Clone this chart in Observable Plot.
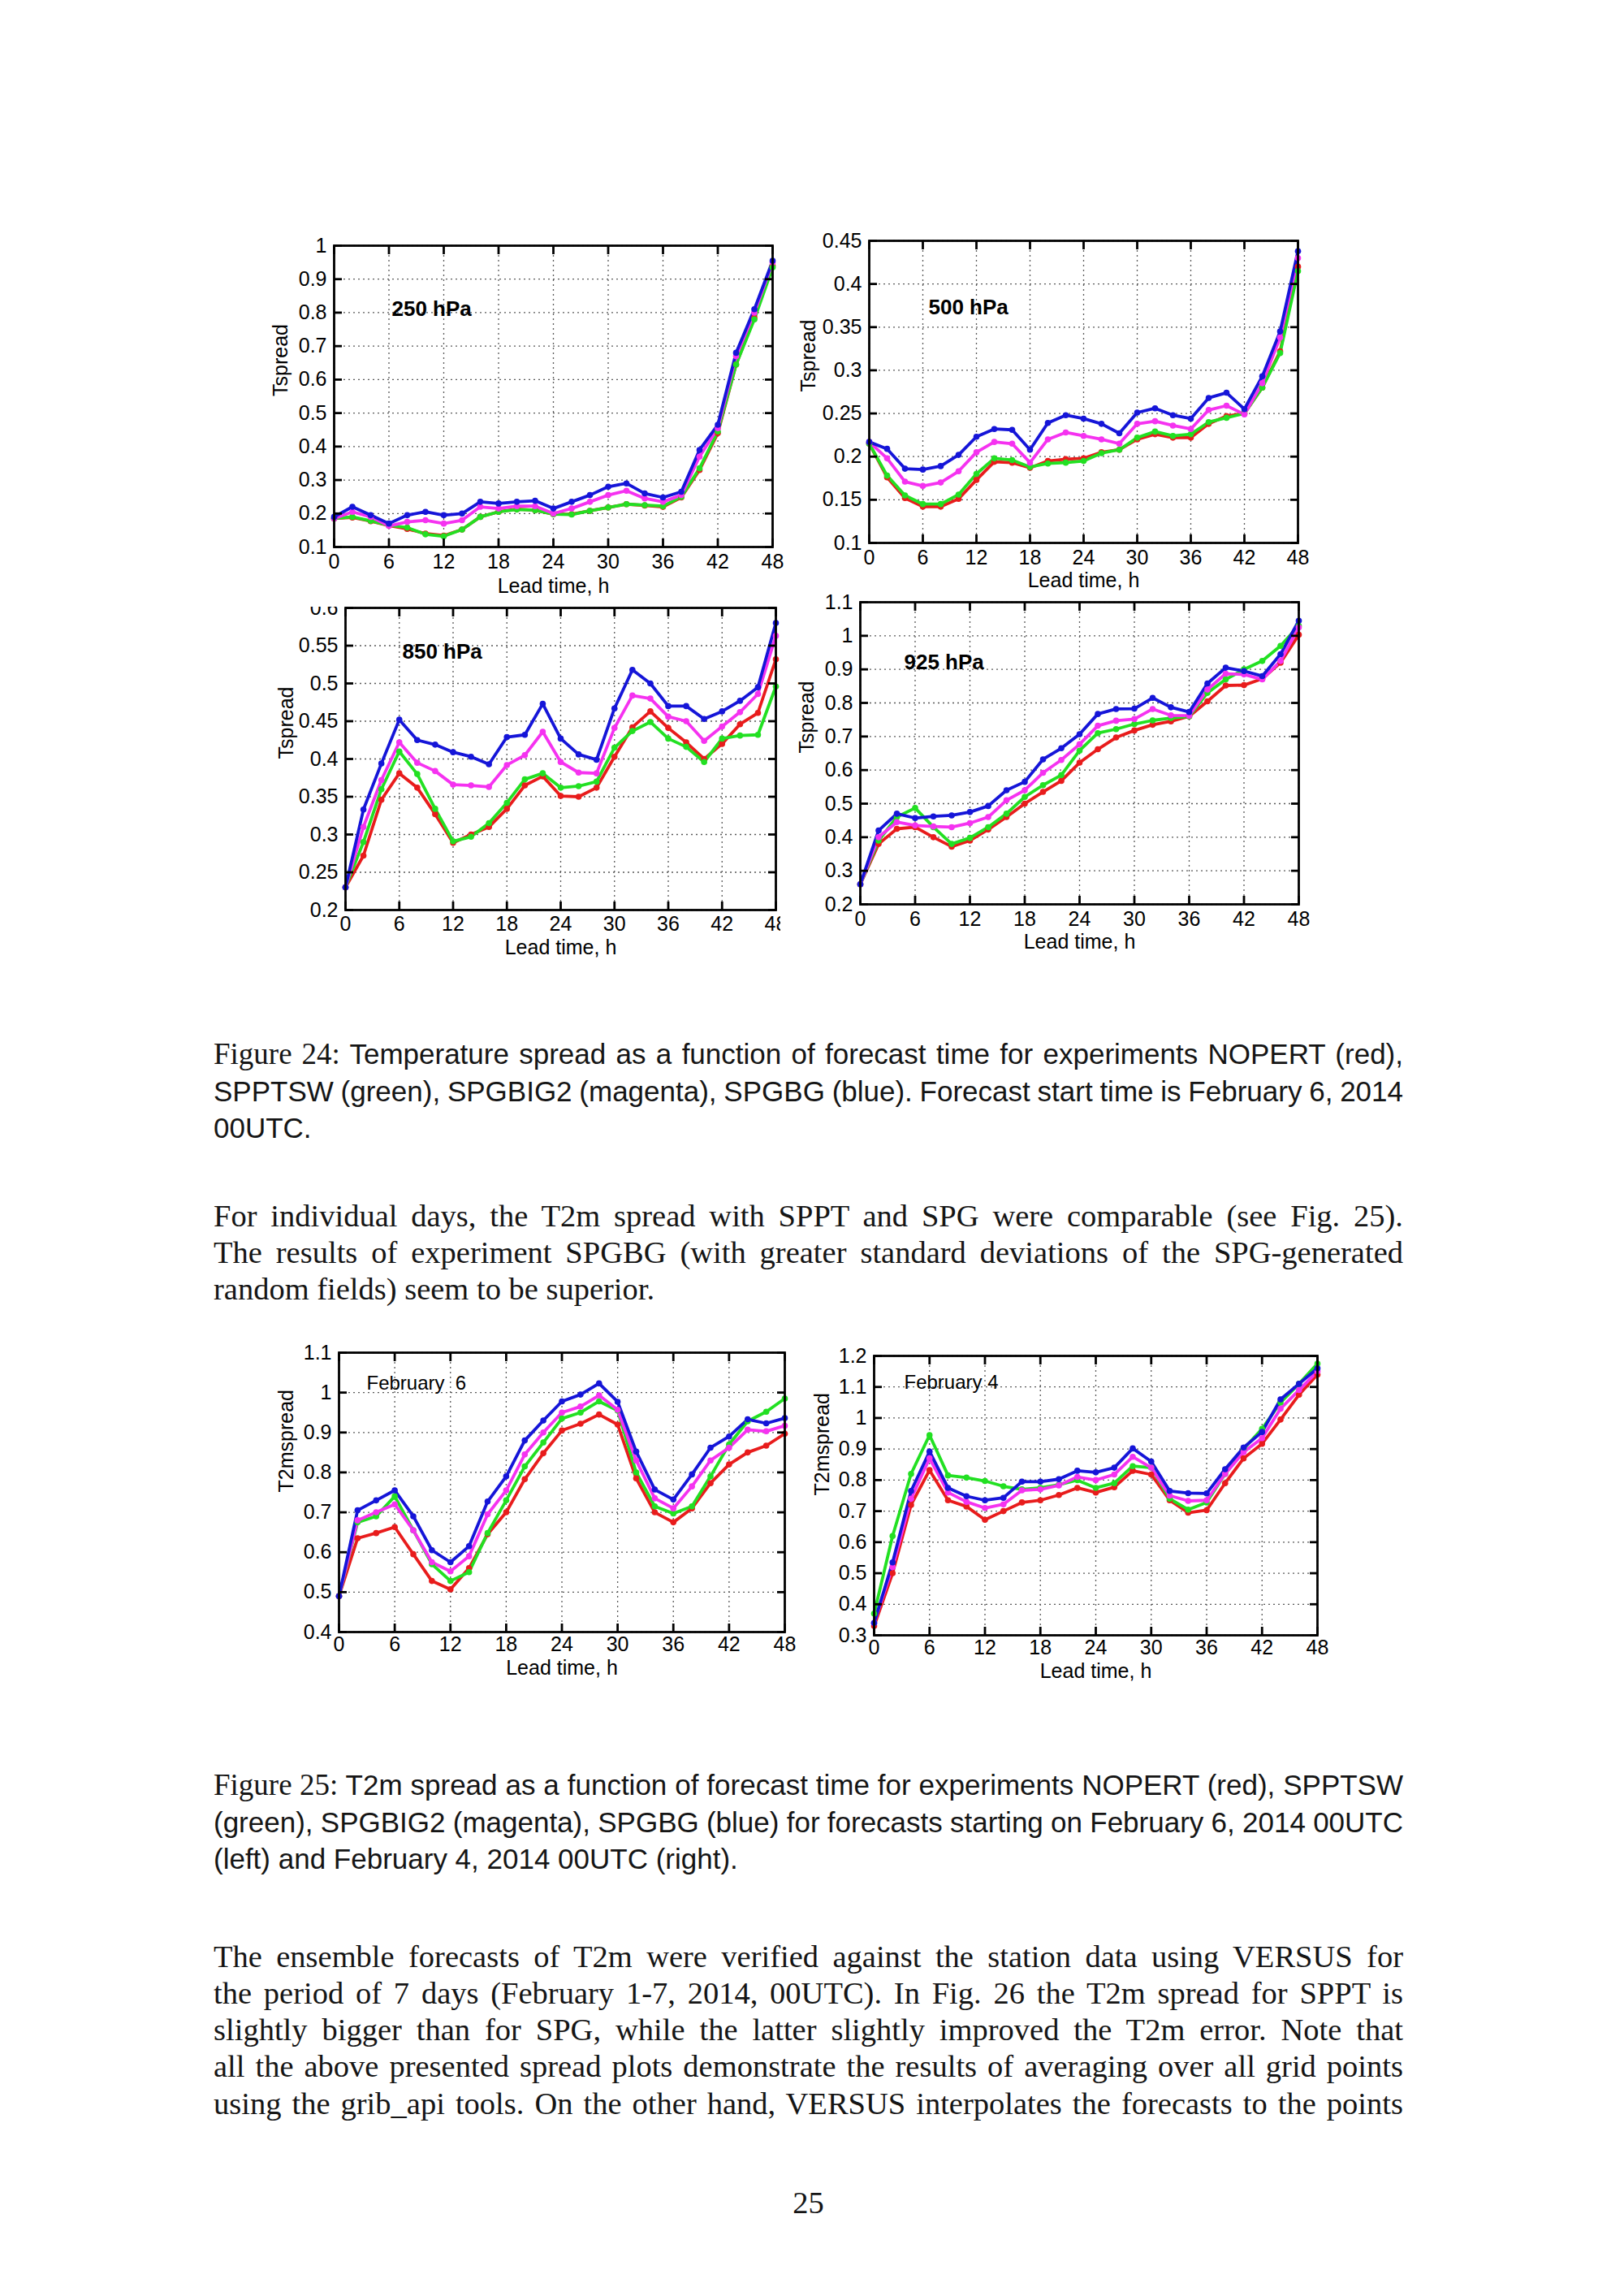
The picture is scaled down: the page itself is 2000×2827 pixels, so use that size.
<!DOCTYPE html>
<html><head><meta charset="utf-8">
<script src="https://cdn.jsdelivr.net/npm/d3@7"></script>
<script src="https://cdn.jsdelivr.net/npm/@observablehq/plot@0.6"></script>
<style>
html,body{margin:0;padding:0;background:#fff;}
#page{position:relative;width:2000px;height:2827px;overflow:hidden;background:#fff;}
.chart{position:absolute;overflow:hidden;}
.chart svg{max-width:none;display:block;position:absolute;}
.line{position:absolute;left:263px;width:1465px;white-space:nowrap;line-height:45px;color:#151515;}
.serif{font-family:"Liberation Serif","Times New Roman",serif;font-size:38.5px;}
.sans{font-family:"Liberation Sans",Arial,sans-serif;font-size:35px;}
.sans .fig{font-family:"Liberation Serif","Times New Roman",serif;font-size:37px;}
</style></head><body><div id="page"></div>
<script>
// ---------- data ----------
const leadTime = [0,2,4,6,8,10,12,14,16,18,20,22,24,26,28,30,32,34,36,38,40,42,44,46,48];
const xTicks = [0,6,12,18,24,30,36,42,48];
const seriesNames = ["NOPERT","SPPTSW","SPGBIG2","SPGBG"];
const seriesColors = ["#e81c1c","#22e022","#f532f0","#1515d8"];

// 250 hPa
const t250_nopert  = [0.185,0.188,0.177,0.164,0.154,0.140,0.134,0.152,0.190,0.205,0.213,0.210,0.198,0.198,0.208,0.218,0.228,0.224,0.220,0.248,0.330,0.440,0.645,0.785,0.940];
const t250_spptsw  = [0.185,0.190,0.178,0.165,0.158,0.138,0.132,0.152,0.190,0.205,0.212,0.210,0.198,0.197,0.208,0.218,0.228,0.225,0.222,0.250,0.335,0.445,0.645,0.780,0.935];
const t250_spgbig2 = [0.185,0.205,0.190,0.163,0.175,0.180,0.170,0.180,0.220,0.215,0.222,0.222,0.200,0.215,0.235,0.255,0.268,0.245,0.235,0.255,0.370,0.455,0.670,0.800,0.950];
const t250_spgbg   = [0.190,0.220,0.195,0.170,0.195,0.205,0.195,0.200,0.235,0.230,0.235,0.238,0.215,0.235,0.255,0.280,0.290,0.260,0.248,0.265,0.390,0.465,0.680,0.810,0.955];
// 500 hPa
const t500_nopert  = [0.215,0.176,0.152,0.142,0.142,0.151,0.173,0.194,0.193,0.187,0.195,0.197,0.198,0.205,0.208,0.220,0.226,0.222,0.222,0.238,0.247,0.250,0.280,0.322,0.420];
const t500_spptsw  = [0.215,0.178,0.155,0.145,0.145,0.156,0.180,0.198,0.196,0.188,0.192,0.193,0.195,0.204,0.208,0.222,0.229,0.224,0.226,0.240,0.245,0.250,0.280,0.320,0.415];
const t500_spgbig2 = [0.217,0.198,0.171,0.166,0.170,0.183,0.205,0.217,0.215,0.193,0.220,0.228,0.224,0.220,0.215,0.238,0.241,0.236,0.232,0.254,0.259,0.249,0.285,0.338,0.430];
const t500_spgbg   = [0.217,0.209,0.186,0.185,0.189,0.202,0.223,0.232,0.231,0.208,0.239,0.248,0.244,0.238,0.227,0.251,0.256,0.248,0.244,0.268,0.274,0.255,0.293,0.345,0.438];
// 850 hPa
const t850_nopert  = [0.230,0.272,0.346,0.381,0.362,0.327,0.289,0.300,0.310,0.334,0.365,0.377,0.351,0.350,0.362,0.403,0.442,0.463,0.441,0.422,0.400,0.420,0.446,0.461,0.532];
const t850_spptsw  = [0.230,0.290,0.360,0.410,0.380,0.334,0.291,0.297,0.315,0.342,0.373,0.381,0.362,0.364,0.370,0.415,0.437,0.449,0.427,0.416,0.396,0.427,0.431,0.432,0.496];
const t850_spgbig2 = [0.230,0.310,0.372,0.422,0.395,0.384,0.366,0.365,0.363,0.392,0.405,0.436,0.396,0.382,0.381,0.441,0.484,0.480,0.456,0.450,0.424,0.443,0.462,0.486,0.563];
const t850_spgbg   = [0.230,0.333,0.394,0.452,0.425,0.419,0.409,0.403,0.393,0.429,0.432,0.473,0.427,0.406,0.399,0.467,0.518,0.500,0.470,0.470,0.453,0.463,0.477,0.495,0.580];
// 925 hPa
const t925_nopert  = [0.260,0.380,0.425,0.430,0.400,0.372,0.390,0.423,0.460,0.500,0.535,0.568,0.622,0.662,0.697,0.718,0.735,0.745,0.760,0.805,0.852,0.853,0.872,0.920,1.003];
const t925_spptsw  = [0.260,0.390,0.460,0.487,0.430,0.380,0.398,0.430,0.470,0.520,0.555,0.585,0.658,0.710,0.722,0.737,0.748,0.755,0.760,0.830,0.870,0.900,0.925,0.970,1.030];
const t925_spgbig2 = [0.260,0.400,0.445,0.435,0.432,0.430,0.442,0.460,0.510,0.540,0.592,0.630,0.677,0.732,0.747,0.752,0.782,0.763,0.762,0.840,0.887,0.885,0.870,0.925,1.025];
const t925_spgbg   = [0.260,0.420,0.470,0.457,0.462,0.465,0.475,0.493,0.540,0.565,0.632,0.665,0.707,0.767,0.782,0.783,0.815,0.787,0.773,0.858,0.905,0.895,0.880,0.945,1.045];
// T2m, February 6
const feb6_nopert  = [0.490,0.635,0.648,0.663,0.595,0.528,0.507,0.560,0.645,0.700,0.783,0.848,0.905,0.922,0.945,0.920,0.785,0.700,0.675,0.710,0.773,0.820,0.850,0.867,0.897];
const feb6_spptsw  = [0.490,0.675,0.690,0.740,0.655,0.570,0.528,0.550,0.648,0.730,0.815,0.875,0.935,0.950,0.978,0.955,0.800,0.715,0.697,0.715,0.790,0.870,0.928,0.952,0.985];
const feb6_spgbig2 = [0.490,0.680,0.700,0.720,0.655,0.575,0.552,0.590,0.695,0.755,0.845,0.900,0.950,0.965,0.993,0.957,0.830,0.735,0.710,0.765,0.830,0.862,0.907,0.903,0.917];
const feb6_spgbg   = [0.490,0.705,0.730,0.755,0.690,0.605,0.575,0.615,0.727,0.790,0.880,0.930,0.978,0.995,1.023,0.977,0.852,0.757,0.732,0.795,0.862,0.890,0.933,0.923,0.936];
// T2m, February 4
const feb4_nopert  = [0.330,0.500,0.720,0.832,0.735,0.715,0.672,0.700,0.728,0.735,0.752,0.775,0.760,0.777,0.830,0.818,0.735,0.695,0.703,0.790,0.870,0.917,0.995,1.075,1.140];
const feb4_spptsw  = [0.370,0.620,0.820,0.945,0.815,0.808,0.797,0.780,0.770,0.775,0.785,0.800,0.775,0.790,0.845,0.840,0.740,0.705,0.728,0.820,0.900,0.965,1.050,1.110,1.175];
const feb4_spgbig2 = [0.340,0.520,0.740,0.870,0.760,0.730,0.710,0.722,0.767,0.770,0.783,0.810,0.800,0.818,0.875,0.840,0.750,0.733,0.735,0.820,0.890,0.935,1.030,1.090,1.150];
const feb4_spgbg   = [0.340,0.535,0.765,0.892,0.775,0.748,0.735,0.743,0.795,0.795,0.803,0.830,0.825,0.840,0.902,0.860,0.765,0.758,0.757,0.835,0.905,0.955,1.060,1.110,1.160];

// tick labels
const yTicks250 = [0.1,0.2,0.3,0.4,0.5,0.6,0.7,0.8,0.9,1];
const yTicks500 = [0.1,0.15,0.2,0.25,0.3,0.35,0.4,0.45];
const yTicks850 = [0.2,0.25,0.3,0.35,0.4,0.45,0.5,0.55,0.6];
const yTicks925 = [0.2,0.3,0.4,0.5,0.6,0.7,0.8,0.9,1,1.1];
const yTicksFeb6 = [0.4,0.5,0.6,0.7,0.8,0.9,1,1.1];
const yTicksFeb4 = [0.3,0.4,0.5,0.6,0.7,0.8,0.9,1,1.1,1.2];
const xTitle = "Lead time, h";

// text
const caption24 = [
  '<span class="fig">Figure 24:</span> Temperature spread as a function of forecast time for experiments NOPERT (red),',
  'SPPTSW (green), SPGBIG2 (magenta), SPGBG (blue). Forecast start time is February 6, 2014',
  '00UTC.'];
const para1 = [
  'For individual days, the T2m spread with SPPT and SPG were comparable (see Fig. 25).',
  'The results of experiment SPGBG (with greater standard deviations of the SPG-generated',
  'random fields) seem to be superior.'];
const caption25 = [
  '<span class="fig">Figure 25:</span> T2m spread as a function of forecast time for experiments NOPERT (red), SPPTSW',
  '(green), SPGBIG2 (magenta), SPGBG (blue) for forecasts starting on February 6, 2014 00UTC',
  '(left) and February 4, 2014 00UTC (right).'];
const para2 = [
  'The ensemble forecasts of T2m were verified against the station data using VERSUS for',
  'the period of 7 days (February 1-7, 2014, 00UTC). In Fig. 26 the T2m spread for SPPT is',
  'slightly bigger than for SPG, while the latter slightly improved the T2m error. Note that',
  'all the above presented spread plots demonstrate the results of averaging over all grid points',
  'using the grib_api tools. On the other hand, VERSUS interpolates the forecasts to the points'];
const pageNumber = "25";

// ---------- layout ----------
const charts = [
  {values:[t250_nopert,t250_spptsw,t250_spgbig2,t250_spgbg], yDomain:[0.1,1], yTicks:yTicks250, yTitle:"Tspread", panel:"250 hPa", bold:true,
   frame:{l:411,t:302,w:540,h:371}, xPad:9, xTitleDy:48, yTitleDx:66, pdx:71, pdy:78},
  {values:[t500_nopert,t500_spptsw,t500_spgbig2,t500_spgbg], yDomain:[0.1,0.45], yTicks:yTicks500, yTitle:"Tspread", panel:"500 hPa", bold:true,
   frame:{l:1070,t:296,w:528,h:372}, xPad:9, xTitleDy:46, yTitleDx:75, pdx:73, pdy:82},
  {values:[t850_nopert,t850_spptsw,t850_spgbig2,t850_spgbg], yDomain:[0.2,0.6], yTicks:yTicks850, yTitle:"Tspread", panel:"850 hPa", bold:true,
   frame:{l:425,t:748,w:530,h:372}, xPad:8, xTitleDy:46, yTitleDx:73, pdx:70, pdy:54, clip:{top:746.5,right:961}},
  {values:[t925_nopert,t925_spptsw,t925_spgbig2,t925_spgbg], yDomain:[0.2,1.1], yTicks:yTicks925, yTitle:"Tspread", panel:"925 hPa", bold:true,
   frame:{l:1059,t:741,w:540,h:372}, xPad:9, xTitleDy:46, yTitleDx:66, pdx:54, pdy:74},
  {values:[feb6_nopert,feb6_spptsw,feb6_spgbig2,feb6_spgbg], yDomain:[0.4,1.1], yTicks:yTicksFeb6, yTitle:"T2mspread", panel:"February  6", bold:false,
   frame:{l:417,t:1665,w:549,h:344}, xPad:6, xTitleDy:44, yTitleDx:65, pdx:34, pdy:38},
  {values:[feb4_nopert,feb4_spptsw,feb4_spgbig2,feb4_spgbg], yDomain:[0.3,1.2], yTicks:yTicksFeb4, yTitle:"T2mspread", panel:"February 4", bold:false,
   frame:{l:1076,t:1669,w:546,h:344}, xPad:6, xTitleDy:44, yTitleDx:64, pdx:37, pdy:33}
];

const page = document.getElementById("page");
const fmt = d => String(d);
const noText = () => "";

function drawChart(c) {
  const ML = 100, MR = 30, MT = 20, MB = 70;
  const rows = [];
  seriesNames.forEach((s, i) => c.values[i].forEach((v, j) => rows.push({series: s, t: leadTime[j], v})));
  const W = c.frame.w + ML + MR, H = c.frame.h + MT + MB;
  const gridStyle = {stroke: "#5a5a5a", strokeOpacity: 1, strokeWidth: 1.3, strokeDasharray: "2,4"};
  const tickStyle = {stroke: "black", strokeWidth: 2.8, tickSize: 10, tickFormat: noText, label: null};
  const svg = Plot.plot({
    width: W, height: H,
    marginLeft: ML, marginRight: MR, marginTop: MT, marginBottom: MB,
    style: {fontFamily: "'Liberation Sans', Arial, sans-serif", background: "transparent", color: "black"},
    x: {domain: [0, 48], axis: null},
    y: {domain: c.yDomain, axis: null},
    color: {domain: seriesNames, range: seriesColors},
    marks: [
      Plot.gridX(xTicks, gridStyle),
      Plot.gridY(c.yTicks, gridStyle),
      Plot.line(rows, {x: "t", y: "v", z: "series", stroke: "series", strokeWidth: 3.8}),
      Plot.dot(rows, {x: "t", y: "v", fill: "series", r: 3.8}),
      Plot.frame({stroke: "black", strokeWidth: 2.8}),
      Plot.axisX(xTicks, {...tickStyle, anchor: "bottom", dy: -10}),
      Plot.axisX(xTicks, {...tickStyle, anchor: "top", dy: 10}),
      Plot.axisY(c.yTicks, {...tickStyle, anchor: "left", dx: 10}),
      Plot.axisY(c.yTicks, {...tickStyle, anchor: "right", dx: -10}),
      Plot.axisX(xTicks, {anchor: "bottom", tickSize: 0, tickPadding: c.xPad, fontSize: 25, tickFormat: fmt, label: null}),
      Plot.axisY(c.yTicks, {anchor: "left", tickSize: 0, tickPadding: 9, fontSize: 25, tickFormat: fmt, label: null}),
      Plot.text([xTitle], {text: d => d, frameAnchor: "bottom", dy: c.xTitleDy, fontSize: 25, lineAnchor: "middle", fill: "black"}),
      Plot.text([c.yTitle], {text: d => d, frameAnchor: "left", dx: -c.yTitleDx, rotate: -90, fontSize: 25, lineAnchor: "middle", fill: "black"}),
      Plot.text([c.panel], {text: d => d, frameAnchor: "top-left", dx: c.pdx, dy: c.pdy, textAnchor: "start", lineAnchor: "middle",
        fontSize: c.bold ? 26 : 24, fontWeight: c.bold ? "bold" : "normal", fill: "black"})
    ]
  });
  const svgLeft = c.frame.l - ML, svgTop = c.frame.t - MT;
  const wl = svgLeft;
  const wt = c.clip ? c.clip.top : svgTop;
  const wr = c.clip ? c.clip.right : svgLeft + W;
  const wb = svgTop + H;
  const wrap = document.createElement("div");
  wrap.className = "chart";
  wrap.style.left = wl + "px"; wrap.style.top = wt + "px";
  wrap.style.width = (wr - wl) + "px"; wrap.style.height = (wb - wt) + "px";
  svg.style.left = (svgLeft - wl) + "px"; svg.style.top = (svgTop - wt) + "px";
  wrap.appendChild(svg);
  page.appendChild(wrap);
}
charts.forEach(drawChart);

// ---------- text ----------
function addLines(lines, firstBaseline, cls, justifyLast) {
  const off = cls === "serif" ? 35.5 : 34.6;
  lines.forEach((html, i) => {
    const d = document.createElement("div");
    d.className = "line " + cls;
    d.style.top = (firstBaseline + i * 45.3 - off) + "px";
    const s = document.createElement("span");
    s.innerHTML = html;
    d.appendChild(s);
    page.appendChild(d);
    const last = i === lines.length - 1;
    if (!last || justifyLast) {
      const w = s.getBoundingClientRect().width;
      const n = (s.textContent.match(/ /g) || []).length;
      if (n) s.style.wordSpacing = ((1465 - w) / n) + "px";
    }
  });
}
addLines(caption24, 1310, "sans", false);
addLines(para1, 1510, "serif", false);
addLines(caption25, 2210, "sans", false);
addLines(para2, 2422, "serif", true);
const pn = document.createElement("div");
pn.className = "line serif";
pn.style.top = (2725 - 35.5) + "px";
pn.style.textAlign = "center";
pn.textContent = pageNumber;
page.appendChild(pn);
</script>
</body></html>
